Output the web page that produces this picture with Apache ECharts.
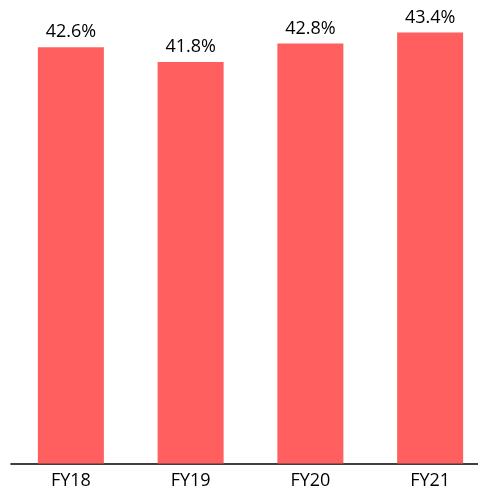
<!DOCTYPE html>
<html><head><meta charset="utf-8">
<script src="https://cdn.jsdelivr.net/npm/echarts@6/dist/echarts.min.js"></script>
<style>html,body{margin:0;padding:0;background:#fff;overflow:hidden;width:478px;height:493px}#c{width:500px;height:493px}</style>
</head><body><div id="c"></div>
<script>
var categories = ['FY18', 'FY19', 'FY20', 'FY21'];
var values = [42.6, 41.8, 42.8, 43.4];
var chart = echarts.init(document.getElementById('c'), null, {renderer: 'canvas'});
chart.setOption({
  animation: false,
  grid: {left: 11, width: 479, top: 3, bottom: 29.5, containLabel: false},
  xAxis: {
    type: 'category', data: categories,
    axisLine: {lineStyle: {color: '#000', width: 1.5}},
    axisTick: {show: false},
    axisLabel: {color: '#000', fontSize: 18, fontFamily: 'Open Sans', margin: 8}
  },
  yAxis: {type: 'value', min: 20, max: 45, show: false, splitLine: {show: false}},
  series: [{
    type: 'bar', data: values, barWidth: 66,
    itemStyle: {color: '#FF5F5F'},
    label: {show: true, position: 'top', distance: 6, color: '#000', fontSize: 18, fontFamily: 'Open Sans',
      formatter: function (p) { return p.value.toFixed(1) + '%'; }}
  }]
});
</script></body></html>
